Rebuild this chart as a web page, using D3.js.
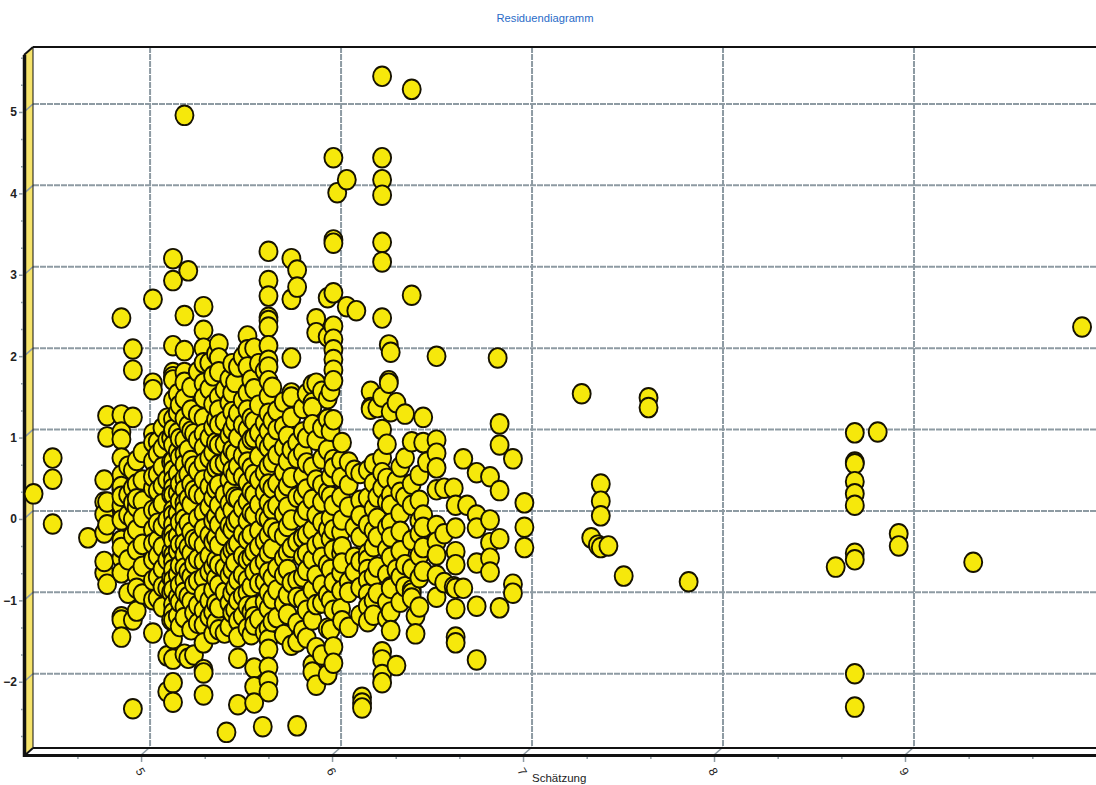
<!DOCTYPE html>
<html><head><meta charset="utf-8">
<script src="https://cdn.jsdelivr.net/npm/d3@7/dist/d3.min.js"></script>
<style>html,body{margin:0;padding:0;background:#fff;overflow:hidden}svg{display:block}text{font-family:"Liberation Sans",Arial,sans-serif}</style>
</head><body><svg id="c" width="1096" height="785"></svg>
<script>
const chartTitle = "Residuendiagramm";
const xTitle = "Schätzung";
const xMajorTicks = [5,6,7,8,9];
const yMajorTicks = [-2,-1,0,1,2,3,4,5];
const xDomain = [4.387, 9.953];
const yDomain = [-2.90, 5.70];
// Fitted value of each readable stack of points
const estimates = [4.39,4.49,4.675,4.76,4.775,4.85,4.885,4.91,4.93,5.015,5.04,5.09,5.11,5.12,5.18,5.2,5.23,5.28,5.31,5.36,5.39,5.4,5.43,5.46,5.51,5.545,5.59,5.62,5.665,5.74,5.77,5.85,5.87,5.93,5.96,5.98,6.005,6.03,6.04,6.07,6.08,6.11,6.14,6.155,6.19,6.215,6.25,6.26,6.29,6.335,6.37,6.39,6.43,6.45,6.5,6.54,6.59,6.6,6.64,6.66,6.71,6.78,6.82,6.83,6.9,6.96,7.26,7.31,7.345,7.36,7.4,7.48,7.61,7.82,8.59,8.69,8.81,8.92,9.31,9.88];
// Residuals in the same order as estimates
const residuals = [
[.21],
[.65,.39,-.16],
[-.33],
[.38,.11,-.04,-.27,-.76,-.62],
[1.17,.91,.11,-.17,-.90],
[2.37,1.18,.97,.88,.65,.44,.26,.07,-.11,-.36,-.58,-.76,-1.30,-1.34,-1.55,-.45,.30,.18],
[-1.01,.55,.2,-.05,-.6],
[1.99,1.73,1.15,.5,.28,-1.34,-2.43,.1,-.1,-.3],
[.33,.05,-.23,-.48,-.79,-.95,-1.23,.62,.15],
[2.6,1.57,1.49,.95,.61,.28,.01,-.23,-.6,-.85,-1.09,-1.5,.84,.42,-.4],
[.85,.45,-.81,-1.07,.01,-.36,.7,.25,-.15,-.55],
[1.14,-1.78,-2.22,.87,.38,-.11,-.6,-.95],
[-.82,-1.34,.6,.2,-.3,.9,-1.0,-.5],
[3.1,2.83,2.03,1.7,1.65,1.61,1.36,1.13,1,.81,.61,.5,.38,.28,.2,.01,-.05,-.17,-.28,-.36,-.54,-.62,-.72,-.85,-.97,-1.15,-1.25,-1.34,-1.57,-1.82,-2.11,-2.35],
[4.86,2.4,1.97,1.7,1.58,1.38,1.14,.87,.7,.57,.4,.26,.1,.01,-.1,-.23,-.4,-.54,-.7,-.85,-1.0,-1.18,-1.31,-1.76],
[2.95,1.05,.75,.45,.15,-.15,-.45,-.75,-1.05,-1.81],
[-1.77,.95,.55,.25,-.35,-.65,-.9,-1.25],
[2.51,2.22,2.0,1.82,1.57,1.39,1.14,.95,.78,.59,.38,.18,-.02,-.22,-.42,-.62,-.82,-1.02,-1.22,-1.4,-1.62,-1.95,-1.99,-2.26],
[1.82,1.5,.9,.65,.3,.05,-.3,-.55,-.75,-1.1,-1.3],
[2.05,1.88,1.71,1.4,1.24,1.06,.81,.57,.32,.07,-.17,-.42,-.66,-.91,-1.19,-1.46],
[1.49,1.1,.82,.59,.2,-.05,-.3,-.7,-1.0,-1.5],
[-2.72],
[1.81,1.45,1.22,1.0,.75,.5,.26,.01,-.23,-.48,-.72,-1.01,-1.25],
[1.77,1.2,.9,.55,.15,-.1,-.4,-.85,-1.1,-1.35,-1.55,-1.81,-2.38],
[2.15,1.98,1.77,1.45,1.24,1.0,.8,.6,.35,.12,-.12,-.35,-.6,-.85,-1.0,-1.17,-1.44],
[2.0,1.5,1.1,.9,.45,.2,-.05,-.5,-.75,-1.17,-1.3,-1.4,-1.93,-2.16,-2.36],
[-2.65],
[3.19,2.83,2.64,2.38,2.34,2.26,2.03,1.85,1.77,1.6,1.41,1.2,.98,.78,.55,.33,.1,-.1,-.3,-.52,-.75,-1.0,-1.2,-1.44,-1.58,-1.7,-1.92,-2.09,-2.22],
[1.23,1,.69,.34,.07,-.26,-.7,-.97,-1.31],
[3.1,2.6,1.88,1.45,1.4,1.15,.75,.41,-.11,-.45,-.88,-1.65],
[2.96,2.75,.84,.65,.17,-.38,-.85,-1.06,-1.38,-1.61,-2.64],
[1.55,1.33,1.27,1.06,.54,.14,-.23,-.6,-.97,-1.34,-1.89,-1.98],
[2.36,2.19,1.57,.87,.38,-.05,-.42,-.79,-1.15,-1.68,-2.14],
[2.62,2.14,1.38,1.13,.75,.23,-.23,-.66,-1.03,-1.44,-2.01],
[4.34,3.33,3.29,2.68,2.27,2.11,1.98,1.86,1.73,1.6,1.12,.63,.53,.07,-.23,-.48,-.88,-1.22,-1.67,-1.87],
[3.91],
[.84,-.11,-.44,-.64,-1.35],
[4.07,2.51],
[.6,.32,.05,-.87,-1.0,-1.43],
[.5,-.2,-.57,-.75],
[2.46],
[-2.29,-2.36,-2.42],
[.5,.16,-.17,-.52,-.6,-.72,-.85,-1.02,-1.17,-1.36],
[1.47,1.27,1.25],
[1.27,.17,-.09,-.32,-.69,-1.01],
[5.34,4.34,4.07,3.88,3.3,3.06,2.37,1.4,1.0,.65,.47,.28,-1.73,-1.83,-2.01,-2.11],
[2.04,1.6,1.57],
[1.95,1.22,.2,.07,-.15,-.32,-.57,-.93,-.95,-1.24,-1.47],
[1.33,.37,-.72,-1.9],
[1.19,.65,.17,-.66,-.93],
[5.18,2.65,.85,.33,.07,-.36,-.71,-.97,-1.01,-1.07],
[-1.29,-1.51],
[1.15,.84,-.05,-.2,-.45,-.74],
[.6],
[1.9,.87,.71,.53,.26,-.18,-.38,-.54,-.79,-1.06],
[.28,-.28,-.88],
[.28,-.93],
[.07,-.21,-.5,-.66,-.95,-1.2,-1.55,-1.62],
[.64,-.95],
[.07],
[.47,-.05,-.21,-.64,-1.17,-1.83],
[.42,-.11,-.39,-.58,-.75],
[1.88],
[1.07,.81,.25,-.34,-1.19],
[.64,-.9,-1.01],
[.1,-.2,-.45],
[1.44],
[-.33],
[-.42],
[.33,.12,-.06,-.45],
[-.43],
[-.8],
[1.39,1.27],
[-.87],
[-.69],
[.96,.6,.58,.36,.21,.07,-.52,-.6,-2.0,-2.41],
[.97],
[-.28,-.43],
[-.63],
[2.26]
];
// Points hidden inside the dense mass, estimated from its texture
const denseEstimates = [4.96,5.065,5.145,5.155,5.215,5.25,5.33,5.345,5.415,5.445,5.485,5.53,5.57,5.6,5.64,5.7,5.72,5.8,5.82,5.9,5.945,6.0,6.1,6.17,6.24,6.31,6.41];
const denseResiduals = [
[.72,.38,.12,-.08,-.41,-.68,-1.02],
[1.02,.77,.54,.31,.09,-.19,-.44,-.71,-.93,-1.18],
[1.44,1.21,.96,.73,.46,.22,-.03,-.31,-.49,-.78,-1.06,-1.29],
[1.3,.89,.66,.33,.12,-.14,-.41,-.67,-.91,-1.12,-1.42],
[1.52,1.24,.98,.62,.33,.08,-.26,-.52,-.81,-1.11,-1.46],
[1.71,1.18,.87,.49,.21,-.09,-.37,-.59,-.86,-1.16,-1.38],
[1.66,1.31,1.03,.72,.44,.16,-.12,-.38,-.69,-.97,-1.24,-1.51],
[1.93,1.12,.84,.53,.27,-.07,-.33,-.61,-.83,-1.14,-1.37],
[1.62,1.33,.93,.66,.38,.09,-.18,-.54,-.79,-1.13,-1.42],
[1.58,1.09,.71,.44,.17,-.14,-.44,-.64,-.94,-1.21],
[1.89,1.36,1.06,.68,.42,.03,-.28,-.55,-.78,-1.04,-1.29],
[1.61,1.14,.88,.53,.24,-.02,-.29,-.57,-.93,-1.24,-1.52],
[1.81,1.3,.96,.67,.38,.08,-.24,-.44,-.68,-.89,-1.33],
[1.72,1.08,.84,.47,.23,-.07,-.37,-.62,-.87,-1.12,-1.49],
[1.52,1.11,.85,.6,.28,.02,-.21,-.46,-.82,-1.08,-1.36],
[1.34,1.04,.78,.48,.22,-.04,-.31,-.58,-.79,-1.14,-1.52],
[.92,.61,.31,.05,-.19,-.51,-.72,-1.03,-1.27],
[1.26,.97,.72,.43,.18,-.08,-.33,-.56,-.81,-1.09,-1.47],
[1.44,.9,.59,.27,.01,-.29,-.52,-.73,-1.22,-1.56],
[1.47,1.02,.64,.32,.11,-.14,-.37,-.57,-.91,-1.13,-1.77],
[1.47,.98,.42,.18,-.09,-.34,-.72,-1.1,-1.46],
[.62,.41,.17,-.26,-.52,-.76,-.98,-1.2],
[.46,.13,-.06,-.32,-.62,-.94,-1.28],
[.58,.34,.03,-.24,-.44,-.8,-1.1,-1.28],
[.82,.4,.11,-.2,-.47,-.78,-1.12,-1.32],
[.54,.23,-.03,-.25,-.49,-.81,-1.12],
[.44,.13,-.12,-.28,-.55,-.82,-1.18]
];

const svg = d3.select("#c");
const x = d3.scaleLinear().domain(xDomain).range([33,1096]);
const y = d3.scaleLinear().domain(yDomain).range([747,47]);
const DX = 9, DY = 8;

svg.append("polygon").attr("fill","#f6e36b")
  .attr("points",[[33-DX,47+DY],[33,47],[33,747],[33-DX,747+DY]].join(" "));

const gridCol = "#8e9ba3";
const g = svg.append("g").attr("fill","none").attr("stroke",gridCol).attr("stroke-width",2).attr("stroke-dasharray","6 1");
g.selectAll(".gy").data(yMajorTicks).join("line").attr("x1",33).attr("x2",1096).attr("y1",d=>y(d)).attr("y2",d=>y(d));
g.selectAll(".gx").data(xMajorTicks).join("line").attr("y1",47).attr("y2",747).attr("x1",d=>x(d)).attr("x2",d=>x(d));
const f = svg.append("g").attr("stroke",gridCol).attr("stroke-width",1.6);
f.selectAll(".fy").data(yMajorTicks).join("line").attr("x1",33).attr("x2",33-DX).attr("y1",d=>y(d)).attr("y2",d=>y(d)+DY);
f.selectAll(".fx").data(xMajorTicks).join("line").attr("y1",747).attr("y2",747+DY).attr("x1",d=>x(d)).attr("x2",d=>x(d)-DX);

const fr = svg.append("g").attr("stroke","#111").attr("fill","none");
fr.append("line").attr("x1",33).attr("x2",1096).attr("y1",47).attr("y2",47).attr("stroke-width",2);
fr.append("line").attr("x1",33).attr("x2",33).attr("y1",47).attr("y2",748).attr("stroke-width",1);
fr.append("line").attr("x1",33).attr("x2",1096).attr("y1",748).attr("y2",748).attr("stroke-width",2);
fr.append("line").attr("x1",24).attr("x2",1096).attr("y1",755.5).attr("y2",755.5).attr("stroke-width",3);
fr.append("line").attr("x1",24.5).attr("x2",24.5).attr("y1",55).attr("y2",757).attr("stroke-width",3.5);
fr.append("line").attr("x1",24).attr("x2",33).attr("y1",55).attr("y2",47).attr("stroke-width",2);
fr.append("line").attr("x1",24).attr("x2",33).attr("y1",756).attr("y2",748).attr("stroke-width",2);

const thirds = (a,b)=>d3.range(Math.ceil(a*3),Math.floor(b*3)+1).map(v=>v/3).filter(v=>Math.abs(v-Math.round(v))>1e-6);
const ya = svg.append("g").attr("transform",`translate(${33-DX-1},${DY})`).call(d3.axisLeft(y).tickValues(yMajorTicks).tickSize(4).tickPadding(2).tickFormat(d3.format("d")));
ya.select(".domain").remove();
ya.selectAll("line").attr("stroke",gridCol).attr("stroke-width",1.5);
ya.selectAll("text").attr("font-size",12).attr("fill","#222").attr("font-weight","bold");
const ym = svg.append("g").attr("transform",`translate(${33-DX-1},${DY})`).call(d3.axisLeft(y).tickValues(thirds(...yDomain)).tickSize(2).tickFormat(""));
ym.select(".domain").remove(); ym.selectAll("line").attr("stroke",gridCol).attr("stroke-width",1.5);

const xa = svg.append("g").attr("transform",`translate(${-DX},757)`).call(d3.axisBottom(x).tickValues(xMajorTicks).tickSize(5).tickPadding(0).tickFormat(d3.format("d")));
xa.select(".domain").remove(); xa.selectAll("line").attr("stroke",gridCol).attr("stroke-width",1.5);
xa.selectAll("text").attr("font-size",12).attr("fill","#222").attr("y",0).attr("dy",0).attr("text-anchor","middle")
  .attr("transform","translate(-2,15) rotate(60)").attr("dominant-baseline","middle");
const xm = svg.append("g").attr("transform",`translate(${-DX},757)`).call(d3.axisBottom(x).tickValues(thirds(...xDomain)).tickSize(2).tickFormat(""));
xm.select(".domain").remove(); xm.selectAll("line").attr("stroke",gridCol).attr("stroke-width",1.5);

const points = estimates.flatMap((e,i)=>residuals[i].map(r=>({e,r})))
  .concat(denseEstimates.flatMap((e,i)=>denseResiduals[i].map(r=>({e,r}))))
  .sort((a,b)=>d3.ascending(a.e,b.e));
svg.append("g").selectAll("ellipse").data(points).join("ellipse")
  .attr("cx",d=>x(d.e)).attr("cy",d=>y(d.r)).attr("rx",9).attr("ry",9.8)
  .attr("fill","#f6e80b").attr("stroke","#161200").attr("stroke-width",1.9);

svg.append("text").attr("x",545).attr("y",22).attr("text-anchor","middle").attr("font-size",11.2).attr("fill","#2a6cc8").text(chartTitle);
svg.append("text").attr("x",532).attr("y",782).attr("font-size",11.5).attr("fill","#222").text(xTitle);
</script></body></html>
